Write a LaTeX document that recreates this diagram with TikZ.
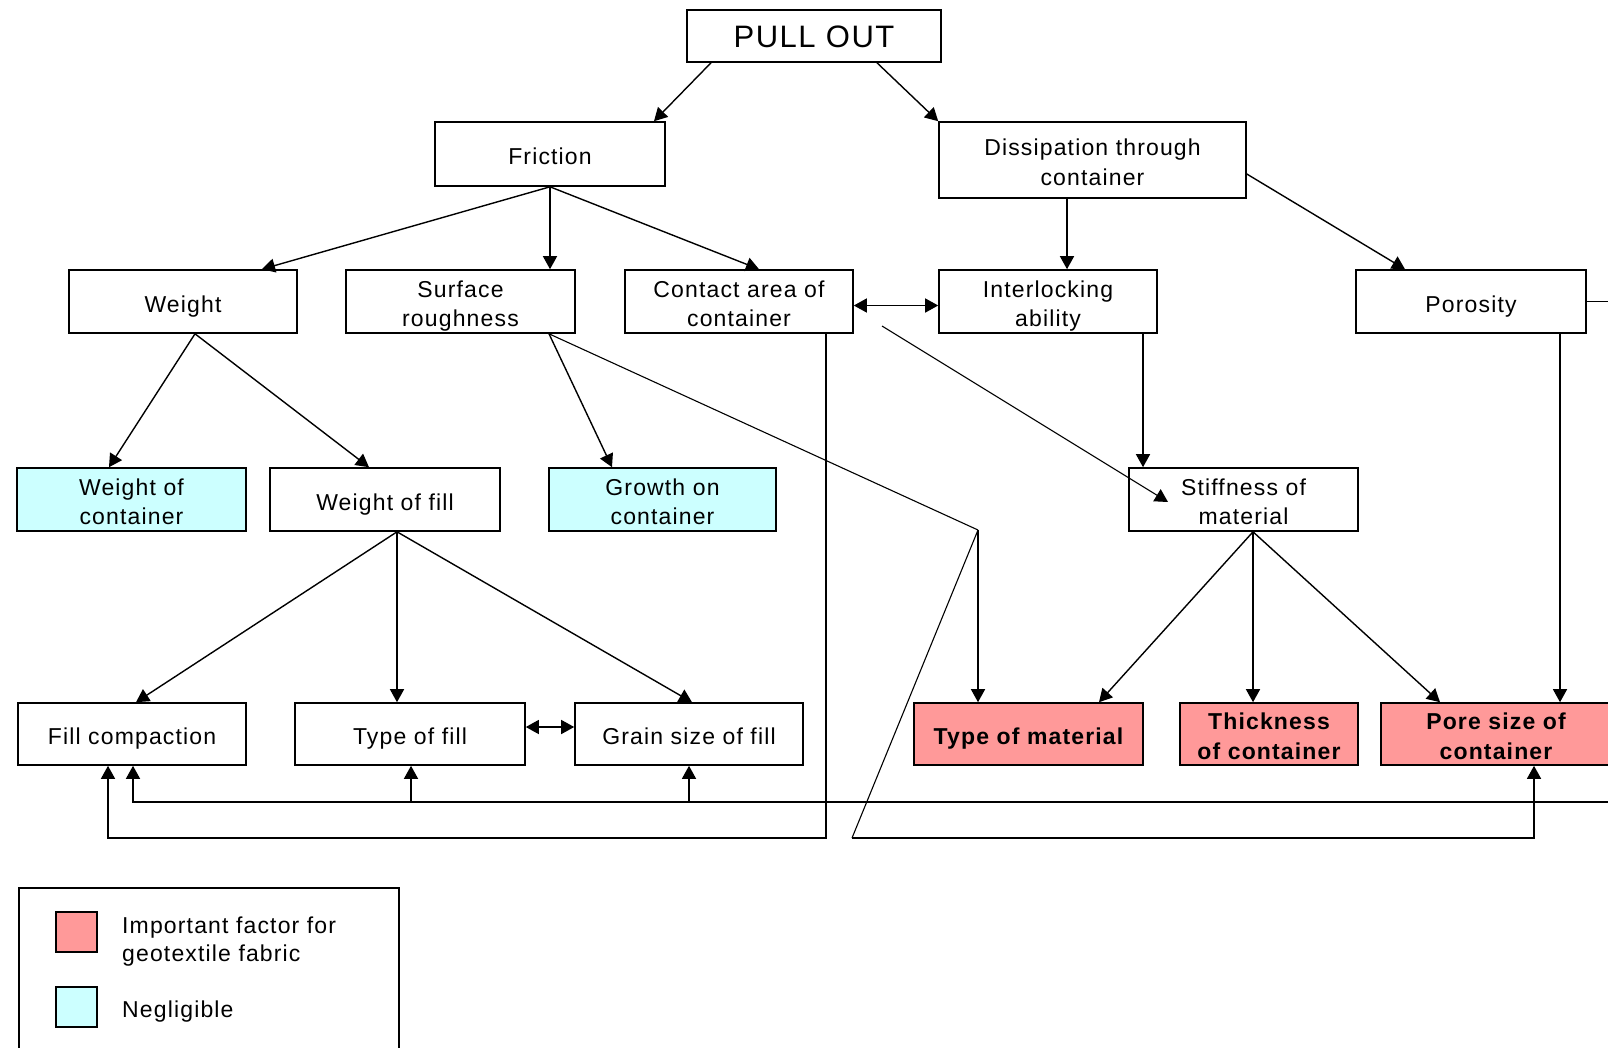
\documentclass[tikz,border=0pt]{standalone}
\usepackage{fontspec}
\setmainfont{Liberation Sans}[LetterSpace=5]
\usetikzlibrary{arrows.meta}
\definecolor{important}{HTML}{FF9999}
\definecolor{negligible}{HTML}{CCFFFF}
% strut that lowers the first of two lines inside a box
\newcommand\toplift{\rule{0pt}{26pt}}
\tikzset{
  box/.style={draw, line width=1.6pt, fill=white, inner sep=0pt, align=center,
    font=\fontsize{23}{29.5}\selectfont,
    execute at begin node={\rule{0pt}{26pt}},
    execute at end node={\rule[-5pt]{0pt}{5pt}}},
  two/.style={execute at begin node={}, execute at end node={}},
  sz/.style 2 args={minimum width=#1, minimum height=#2},
  imp/.style={box, fill=important, font=\bfseries\fontsize{23}{29.5}\selectfont},
  neg/.style={box, fill=negligible},
  conn/.style={line width=1.4pt, -{Triangle[length=13pt,width=14pt]}},
  biconn/.style={line width=1.4pt, {Triangle[length=13pt,width=14pt]}-{Triangle[length=13pt,width=14pt]}},
  plain/.style={line width=1.4pt},
  slim/.style={line width=1.1pt},
}
\begin{document}
\begin{tikzpicture}[x=1pt, y=-1pt]
\useasboundingbox (0,0) rectangle (1608,1047);
\clip (0,0) rectangle (1608,1047);
\fill[white] (0,0) rectangle (1608,1047);

% --- top levels
\node[box, sz={254}{52}, font=\fontsize{31}{36}\selectfont,
      execute at begin node={\rule{0pt}{28pt}},
      execute at end node={}] (pull) at (814,36) {PULL OUT};
\node[box, sz={230}{64}] (friction) at (550,154) {Friction};
\node[box, two, sz={307}{76}] (dissip) at (1092.5,160) {\toplift Dissipation through\\container};

\node[box, sz={228}{63}] (weight)   at (183,301.5)  {Weight};
\node[box, two, sz={229}{63}] (surface)  at (460.5,301.5) {\toplift Surface\\roughness};
\node[box, two, sz={228}{63}] (contact)  at (739,301.5)  {\toplift Contact area of\\container};
\node[box, two, sz={218}{63}] (interl)   at (1048,301.5) {\toplift Interlocking\\ability};
\node[box, sz={230}{63}] (porosity) at (1471,301.5) {Porosity};

\node[neg, two, sz={229}{63}] (wcont)  at (131.5,499.5)  {\toplift Weight of\\container};
\node[box, sz={230}{63}] (wfill)  at (385,499.5)    {Weight of fill};
\node[neg, two, sz={227}{63}] (growth) at (662.5,499.5)  {\toplift Growth on\\container};
\node[box, two, sz={229}{63}] (stiff)  at (1243.5,499.5) {\toplift Stiffness of\\material};

\node[box, sz={228}{62}] (fillc)    at (132,734)    {Fill compaction};
\node[box, sz={230}{62}] (typefill) at (410,734)    {Type of fill};
\node[box, sz={228}{62}] (grain)    at (689,734)    {Grain size of fill};
\node[imp, sz={229}{62}] (typemat)  at (1028.5,734) {Type of material};
\node[imp, two, sz={178}{62}] (thick)    at (1269,734)   {\toplift Thickness\\of container};
\node[imp, two, sz={230}{62}] (pore)     at (1496,734)   {\toplift Pore size of\\container};

% --- connectors from the top
\draw[conn] ([xshift=-103]pull.south) -- ([xshift=104]friction.north);
\draw[conn] ([xshift=63]pull.south) -- (dissip.north west);

\draw[conn] (friction.south) -- ([xshift=79]weight.north);
\draw[conn] (friction.south) -- (friction.south |- surface.north);
\draw[conn] (friction.south) -- ([xshift=20]contact.north);

\draw[conn] ([xshift=-25.5]dissip.south) -- ([xshift=-25.5]dissip.south |- interl.north);
\draw[conn] ([yshift=-14]dissip.east) -- ([xshift=-66]porosity.north);

\draw[biconn] ([yshift=-4]contact.east) -- ([yshift=-4]interl.west);

\coordinate (cstart) at (882,326);
\draw[slim, -{Triangle[length=13pt,width=14pt]}] (cstart) -- ([xshift=-75.5,yshift=-2.5]stiff.center);

% --- second level
\draw[conn] ([xshift=12]weight.south) -- ([xshift=-22.5]wcont.north);
\draw[conn] ([xshift=12]weight.south) -- ([xshift=-16]wfill.north);

\draw[conn] ([xshift=88.5]surface.south) -- ([xshift=-50.5]growth.north);

\coordinate (kink) at (978,530);
\draw[slim] ([xshift=88.5]surface.south) -- (kink);
\draw[conn] (kink) -- (kink |- typemat.north);
\draw[slim] (kink) -- (852,838);
\draw[conn] (852,838) -| ([xshift=38]pore.south);

\draw[conn] ([xshift=95]interl.south) -- ([xshift=95]interl.south |- stiff.north);

\draw[conn] ([xshift=89]porosity.south) -- ([xshift=89]porosity.south |- pore.north);
\draw[plain] (porosity.east) -- ++(40,0);

% --- third level
\draw[conn] ([xshift=12]wfill.south) -- ([xshift=4]fillc.north);
\draw[conn] ([xshift=12]wfill.south) -- ([xshift=12]wfill.south |- typefill.north);
\draw[conn] ([xshift=12]wfill.south) -- ([xshift=3]grain.north);
\draw[biconn] ([yshift=7]typefill.east) -- ([yshift=7]grain.west);

\draw[conn] ([xshift=9.5]stiff.south) -- ([xshift=70.5]typemat.north);
\draw[conn] ([xshift=9.5]stiff.south) -- ([xshift=9.5]stiff.south |- thick.north);
\draw[conn] ([xshift=9.5]stiff.south) -- ([xshift=-56]pore.north);

% --- return lines along the bottom
\coordinate (rightend) at (1640,802);
\draw[conn] (rightend) -| ([xshift=1]fillc.south);
\draw[conn] ([xshift=1]typefill.south |- rightend) -- ([xshift=1]typefill.south);
\draw[conn] (grain.south |- rightend) -- (grain.south);

\draw[conn] ([xshift=87]contact.south) |- (108,838) -- ([xshift=-24]fillc.south);

% --- legend
\node[draw, line width=1.6pt, minimum width=380, minimum height=200, anchor=north west, inner sep=0pt] (legend) at (18,887) {};
\node[draw, line width=1.2pt, fill=important, minimum width=41, minimum height=40, inner sep=0pt] (swimp) at (76.5,932) {};
\node[draw, line width=1.2pt, fill=negligible, minimum width=41, minimum height=40, inner sep=0pt] (swneg) at (76.5,1007) {};
\node[anchor=west, align=left, inner sep=0pt, font=\fontsize{23}{28}\selectfont] (limp) at (122,942) {Important factor for\\geotextile fabric};
\node[anchor=west, inner sep=0pt, font=\fontsize{23}{28}\selectfont] (lneg) at (122,1012) {Negligible};
\end{tikzpicture}
\end{document}
